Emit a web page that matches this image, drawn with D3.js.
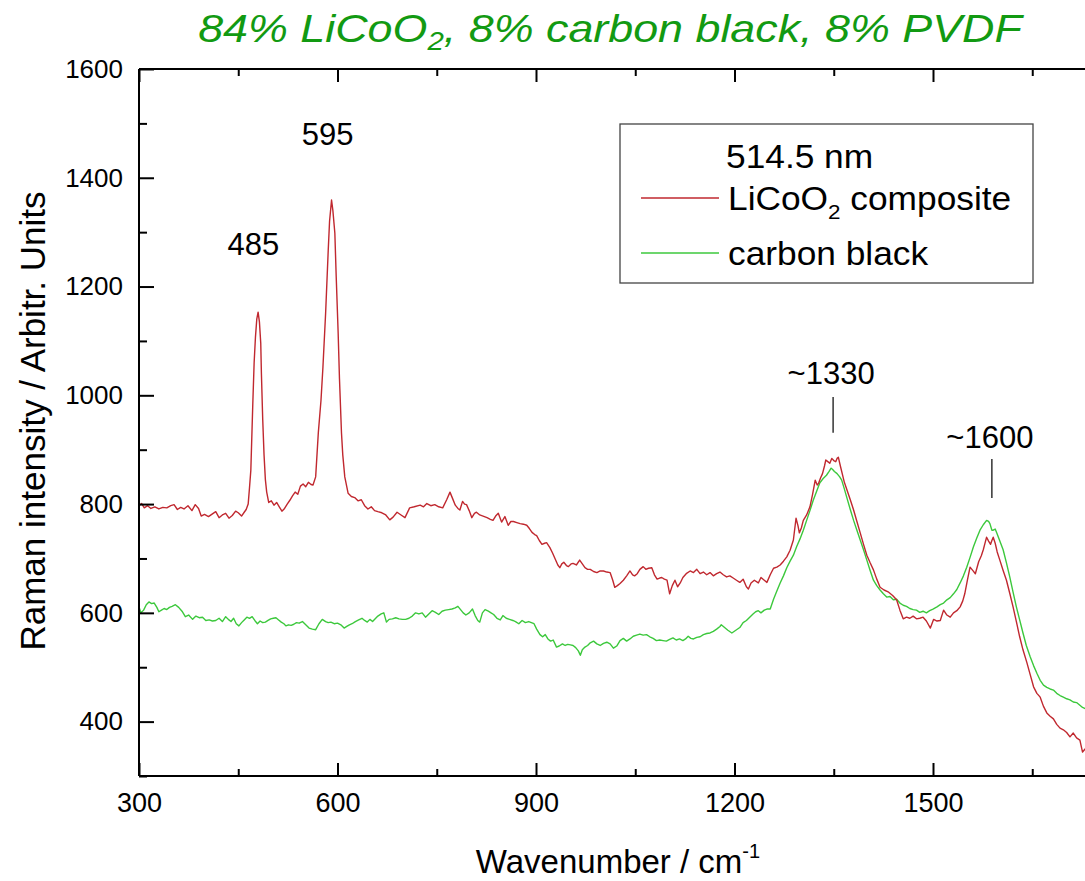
<!DOCTYPE html>
<html>
<head>
<meta charset="utf-8">
<script src="https://cdn.jsdelivr.net/npm/d3@7"></script>
<style>
  html, body { margin: 0; padding: 0; background: #fff; }
  svg { display: block; }
  text { font-family: "Liberation Sans", Arial, sans-serif; fill: #000; }
</style>
</head>
<body>
<svg id="chart" width="1085" height="881"></svg>
<script>
// Axis ticks
const xTicks = [300, 600, 900, 1200, 1500];
const xMinorTicks = [450, 750, 1050, 1350, 1650];
const yTicks = [400, 600, 800, 1000, 1200, 1400, 1600];
const yMinorTicks = [300, 500, 700, 900, 1100, 1300, 1500];

// Series names
const seriesNames = ["LiCoO2 composite", "carbon black"];
const laserLine = "514.5 nm";

// Raman spectrum of the LiCoO2 composite electrode: [wavenumber, intensity]
const licooComposite = [
  [300,797],[304,801],[308,793],[313,797],[318,792],[324,795],[330,791],[336,794],[342,793],[348,797],
  [353,799],[358,790],[363,794],[368,791],[374,797],[380,788],[385,799],[390,792],[394,778],[399,781],
  [405,777],[411,782],[416,786],[421,775],[426,780],[431,783],[436,774],[441,779],[446,787],[450,784],
  [455,778],[459,785],[462,790],[465,800],[467,830],[469,862],[472,985],[474,1060],[476,1107],[478,1140],
  [480,1153],[482,1135],[484,1096],[485,1040],[487,955],[489,890],[491,845],[493,822],[496,803],[500,806],
  [504,798],[508,803],[512,795],[516,787],[520,792],[524,800],[528,807],[532,815],[536,822],[540,818],
  [544,833],[548,837],[552,832],[556,840],[560,836],[563,835],[567,850],[571,931],[575,990],[578,1052],
  [582,1150],[586,1267],[588,1320],[591,1359],[593,1340],[596,1298],[598,1220],[601,1114],[603,1030],[606,931],
  [608,890],[611,850],[616,820],[621,814],[626,812],[631,806],[636,808],[641,797],[646,791],[651,795],
  [656,788],[661,786],[667,784],[673,780],[679,771],[684,776],[690,785],[696,780],[702,775],[709,793],
  [716,795],[725,798],[730,795],[735,801],[741,797],[747,799],[753,795],[759,793],[765,808],[770,822],
  [774,810],[778,798],[782,792],[785,789],[789,805],[792,800],[795,799],[799,788],[803,775],[807,783],
  [810,785],[815,780],[820,778],[826,775],[831,772],[835,770],[839,778],[843,783],[848,767],[853,777],
  [858,761],[862,768],[866,768],[871,766],[876,764],[881,763],[886,761],[890,755],[894,748],[898,744],
  [901,742],[905,733],[909,726],[913,728],[916,729],[921,720],[925,710],[929,699],[933,688],[936,683],
  [939,690],[942,693],[946,687],[949,685],[953,690],[956,691],[961,688],[966,697],[970,690],[974,683],
  [978,680],[982,680],[987,676],[992,674],[997,677],[1002,677],[1007,675],[1012,674],[1016,660],[1019,647],
  [1023,650],[1027,654],[1032,660],[1037,668],[1042,677],[1046,670],[1049,668],[1053,672],[1057,680],[1062,685],
  [1066,680],[1070,682],[1075,683],[1079,670],[1083,662],[1087,664],[1090,665],[1094,662],[1098,660],[1102,635],
  [1106,650],[1110,660],[1114,648],[1118,655],[1122,665],[1127,672],[1133,677],[1138,674],[1143,680],[1148,672],
  [1153,675],[1158,670],[1163,674],[1168,668],[1173,672],[1178,675],[1183,670],[1188,666],[1193,668],[1198,664],
  [1203,660],[1208,656],[1213,662],[1218,648],[1221,644],[1225,655],[1230,660],[1236,655],[1240,665],[1245,660],
  [1249,656],[1254,670],[1259,682],[1264,684],[1269,688],[1274,695],[1279,703],[1284,715],[1289,734],[1293,774],
  [1296,760],[1298,747],[1301,756],[1304,770],[1309,780],[1314,795],[1318,818],[1322,844],[1325,835],[1327,838],
  [1330,848],[1333,856],[1336,870],[1338,881],[1341,878],[1344,875],[1347,884],[1350,880],[1353,878],[1355,884],
  [1357,886],[1360,870],[1363,855],[1366,840],[1370,826],[1375,808],[1380,789],[1385,768],[1390,747],[1395,726],
  [1400,706],[1405,692],[1410,679],[1415,662],[1420,647],[1426,642],[1433,638],[1439,632],[1445,624],[1450,605],
  [1455,589],[1460,592],[1465,590],[1470,594],[1475,589],[1480,590],[1485,592],[1490,585],[1496,572],[1501,588],
  [1506,585],[1511,586],[1516,605],[1521,596],[1526,592],[1531,600],[1536,604],[1541,611],[1545,622],[1548,635],
  [1552,660],[1556,684],[1560,678],[1564,672],[1569,694],[1573,705],[1576,716],[1579,730],[1581,739],[1584,732],
  [1587,726],[1589,733],[1591,739],[1594,728],[1597,712],[1601,697],[1606,678],[1611,660],[1616,636],[1621,611],
  [1626,584],[1631,556],[1636,532],[1642,508],[1647,486],[1652,464],[1657,452],[1662,445],[1667,428],[1672,416],
  [1677,410],[1682,405],[1687,395],[1692,388],[1697,385],[1702,380],[1707,372],[1712,379],[1717,370],[1722,366],
  [1726,344],[1730,350]
];

// Raman spectrum of carbon black: [wavenumber, intensity]
const carbonBlack = [
  [300,611],[303,600],[307,605],[311,615],[315,620],[319,617],[323,618],[327,610],[330,602],[334,605],
  [338,608],[342,606],[346,610],[350,612],[355,615],[360,610],[365,603],[370,593],[375,596],[381,588],
  [386,594],[391,591],[396,592],[401,586],[406,587],[411,585],[416,586],[421,590],[426,584],[431,593],
  [435,588],[439,584],[443,590],[447,580],[451,576],[455,582],[459,587],[463,592],[467,590],[471,593],
  [475,586],[479,580],[483,585],[487,582],[491,583],[495,586],[499,589],[503,590],[507,591],[511,587],
  [515,583],[519,580],[522,576],[526,578],[530,577],[534,579],[538,582],[542,581],[547,584],[552,578],
  [557,572],[562,570],[567,569],[572,580],[577,588],[582,584],[586,582],[590,583],[595,580],[600,581],
  [605,578],[610,572],[614,575],[618,578],[622,580],[627,584],[632,587],[637,590],[641,586],[645,583],
  [649,588],[653,584],[657,589],[661,594],[666,598],[670,600],[674,583],[678,588],[683,589],[688,591],
  [693,589],[698,588],[703,588],[708,590],[713,594],[718,600],[723,598],[728,600],[733,592],[738,598],
  [743,604],[748,601],[753,597],[758,603],[763,605],[768,606],[773,607],[778,609],[782,612],[786,606],
  [790,600],[794,596],[799,600],[804,607],[808,595],[812,586],[815,583],[819,600],[823,606],[828,603],
  [832,600],[836,597],[841,590],[846,587],[850,595],[855,590],[860,588],[865,586],[869,584],[874,580],
  [879,586],[884,582],[889,584],[893,582],[897,580],[901,570],[906,560],[910,556],[914,560],[918,552],
  [922,548],[926,550],[931,537],[935,539],[940,543],[944,540],[948,542],[952,541],[956,540],[960,536],
  [964,530],[967,522],[970,532],[974,537],[978,540],[982,545],[987,548],[992,543],[997,540],[1002,544],
  [1007,546],[1012,543],[1017,535],[1022,539],[1027,549],[1032,553],[1037,548],[1042,552],[1047,557],[1052,559],
  [1057,561],[1062,559],[1067,560],[1072,556],[1077,553],[1082,549],[1087,550],[1092,549],[1097,548],[1102,551],
  [1107,554],[1112,550],[1117,552],[1122,549],[1126,552],[1130,557],[1134,553],[1138,552],[1143,555],[1148,556],
  [1153,560],[1158,562],[1163,563],[1168,566],[1173,570],[1178,575],[1180,578],[1185,573],[1190,568],[1196,563],
  [1202,568],[1208,573],[1213,582],[1218,586],[1223,592],[1228,598],[1232,602],[1236,604],[1240,600],[1245,605],
  [1249,607],[1254,607],[1259,625],[1264,640],[1269,655],[1274,668],[1279,683],[1284,695],[1289,706],[1294,722],
  [1299,736],[1304,752],[1309,770],[1314,788],[1319,807],[1324,823],[1329,839],[1334,847],[1339,853],[1343,860],
  [1346,866],[1348,864],[1351,860],[1355,856],[1359,850],[1362,844],[1366,828],[1370,811],[1375,790],[1380,770],
  [1385,752],[1390,734],[1395,716],[1400,697],[1405,678],[1410,660],[1415,650],[1420,642],[1425,635],[1430,629],
  [1435,630],[1440,624],[1445,625],[1450,618],[1455,614],[1460,612],[1465,608],[1470,606],[1475,605],[1480,601],
  [1485,603],[1490,600],[1495,604],[1500,607],[1506,611],[1511,615],[1516,618],[1521,624],[1526,628],[1531,635],
  [1536,643],[1541,655],[1546,668],[1551,684],[1556,702],[1561,721],[1566,737],[1571,752],[1576,762],[1581,770],
  [1584,768],[1586,764],[1589,752],[1591,752],[1594,754],[1597,745],[1601,732],[1606,716],[1611,692],[1616,666],
  [1621,638],[1626,611],[1631,587],[1636,563],[1641,540],[1647,519],[1652,503],[1657,489],[1662,476],[1667,467],
  [1672,463],[1677,460],[1682,458],[1687,452],[1692,448],[1697,445],[1702,442],[1707,440],[1712,436],[1717,435],
  [1722,430],[1726,426],[1730,424]
];

// Band labels: text, anchor wavenumber, anchor intensity
const bandLabels = [
  ["485", 473, 1258],
  ["595", 585, 1460],
  ["~1330", 1346, 1021],
  ["~1600", 1586, 903]
];
// Marker ticks under the carbon bands: wavenumber, from intensity, to intensity
const bandMarkers = [
  [1349, 997, 931],
  [1589, 883, 811]
];

const RED = "#c0282f";
const GREEN = "#3cc83c";

const svg = d3.select("#chart");
svg.append("rect").attr("width", 1085).attr("height", 881).attr("fill", "#fff");

const x = d3.scaleLinear().domain([300, 1800]).range([139, 1131.5]);
const y = d3.scaleLinear().domain([300, 1600]).range([776, 69]);

// Spectra
const line = d3.line().x(d => x(d[0])).y(d => y(d[1]));
svg.append("path").datum(carbonBlack)
  .attr("fill", "none").attr("stroke", GREEN).attr("stroke-width", 1.4)
  .attr("stroke-linejoin", "round").attr("d", line);
svg.append("path").datum(licooComposite)
  .attr("fill", "none").attr("stroke", RED).attr("stroke-width", 1.4)
  .attr("stroke-linejoin", "round").attr("d", line);

// Axes with inward ticks
function styleAxis(g) {
  g.selectAll("path.domain").attr("stroke", "#000").attr("stroke-width", 2);
  g.selectAll(".tick line").attr("stroke", "#000").attr("stroke-width", 2);
  g.selectAll("text").attr("font-family", '"Liberation Sans", Arial, sans-serif').attr("fill", "#000");
}
const fmt = d3.format("d");

const gBottom = svg.append("g").attr("transform", `translate(0,${y(300)})`)
  .call(d3.axisBottom(x).tickValues(xTicks).tickFormat(fmt)
    .tickSizeInner(-13).tickSizeOuter(0).tickPadding(17));
gBottom.selectAll("text").attr("font-size", 27);
styleAxis(gBottom);
// extend the baseline to the right edge of the frame
gBottom.select("path.domain").attr("d", `M${x(300)},0H${x(1800)}`);

const gBottomMinor = svg.append("g").attr("transform", `translate(0,${y(300)})`)
  .call(d3.axisBottom(x).tickValues(xMinorTicks).tickSizeInner(-7).tickSizeOuter(0).tickFormat(""));
gBottomMinor.select("path.domain").remove();
styleAxis(gBottomMinor);

const gTop = svg.append("g").attr("transform", `translate(0,${y(1600)})`)
  .call(d3.axisTop(x).tickValues(xTicks).tickSizeInner(-13).tickSizeOuter(0).tickFormat(""));
styleAxis(gTop);
gTop.select("path.domain").attr("d", `M${x(300)},0H${x(1800)}`);
const gTopMinor = svg.append("g").attr("transform", `translate(0,${y(1600)})`)
  .call(d3.axisTop(x).tickValues(xMinorTicks).tickSizeInner(-7).tickSizeOuter(0).tickFormat(""));
gTopMinor.select("path.domain").remove();
styleAxis(gTopMinor);

const gLeft = svg.append("g").attr("transform", `translate(${x(300)},0)`)
  .call(d3.axisLeft(y).tickValues(yTicks).tickFormat(fmt)
    .tickSizeInner(-15).tickSizeOuter(0).tickPadding(16));
gLeft.selectAll("text").attr("font-size", 26);
styleAxis(gLeft);
gLeft.select("path.domain").attr("d", `M0,${y(300)}V${y(1600)}`);
const gLeftMinor = svg.append("g").attr("transform", `translate(${x(300)},0)`)
  .call(d3.axisLeft(y).tickValues(yMinorTicks).tickSizeInner(-8).tickSizeOuter(0).tickFormat(""));
gLeftMinor.select("path.domain").remove();
styleAxis(gLeftMinor);

// Axis titles
const xTitle = svg.append("text").attr("x", 618).attr("y", 873)
  .attr("text-anchor", "middle").attr("font-size", 33);
xTitle.append("tspan").text("Wavenumber / cm");
xTitle.append("tspan").attr("dy", -15).attr("font-size", 20).text("-1");

svg.append("text")
  .attr("transform", `translate(45,421) rotate(-90)`)
  .attr("text-anchor", "middle").attr("font-size", 35)
  .text("Raman intensity / Arbitr. Units");

// Title (slightly widened lettering)
const title = svg.append("text")
  .attr("transform", "translate(610,42) scale(1.18,1)")
  .attr("text-anchor", "middle")
  .attr("font-family", '"DejaVu Sans", Verdana, sans-serif')
  .attr("font-style", "italic").attr("font-size", 38)
  .style("fill", "#129a12");
title.append("tspan").text("84% LiCoO");
title.append("tspan").attr("dy", 8).attr("font-size", 25).text("2");
title.append("tspan").attr("dy", -8).text(", 8% carbon black, 8% PVDF");

// Band labels and markers
bandLabels.forEach(([t, wn, inten]) => {
  svg.append("text").attr("x", x(wn)).attr("y", y(inten))
    .attr("text-anchor", "middle").attr("font-size", 31).text(t);
});
bandMarkers.forEach(([wn, a, b]) => {
  svg.append("line")
    .attr("x1", x(wn)).attr("x2", x(wn)).attr("y1", y(a)).attr("y2", y(b))
    .attr("stroke", "#000").attr("stroke-width", 1.2);
});

// Legend
const lg = svg.append("g");
lg.append("rect").attr("x", 620).attr("y", 124).attr("width", 413).attr("height", 159)
  .attr("fill", "#fff").attr("stroke", "#444").attr("stroke-width", 1.3);
lg.append("text").attr("transform", "translate(726,168) scale(1.07,1)")
  .attr("font-size", 33).text(laserLine);
const legendRows = [
  { color: RED, y: 198, textY: 210 },
  { color: GREEN, y: 253, textY: 265 }
];
legendRows.forEach((r, i) => {
  lg.append("line").attr("x1", 641).attr("x2", 719).attr("y1", r.y).attr("y2", r.y)
    .attr("stroke", r.color).attr("stroke-width", 1.4);
  const t = lg.append("text").attr("transform", `translate(728,${r.textY}) scale(1.07,1)`)
    .attr("font-size", 33);
  if (i === 0) {
    t.append("tspan").text("LiCoO");
    t.append("tspan").attr("dy", 9).attr("font-size", 21).text("2");
    t.append("tspan").attr("dy", -9).text(" composite");
  } else {
    t.text(seriesNames[1]);
  }
});
</script>
</body>
</html>
